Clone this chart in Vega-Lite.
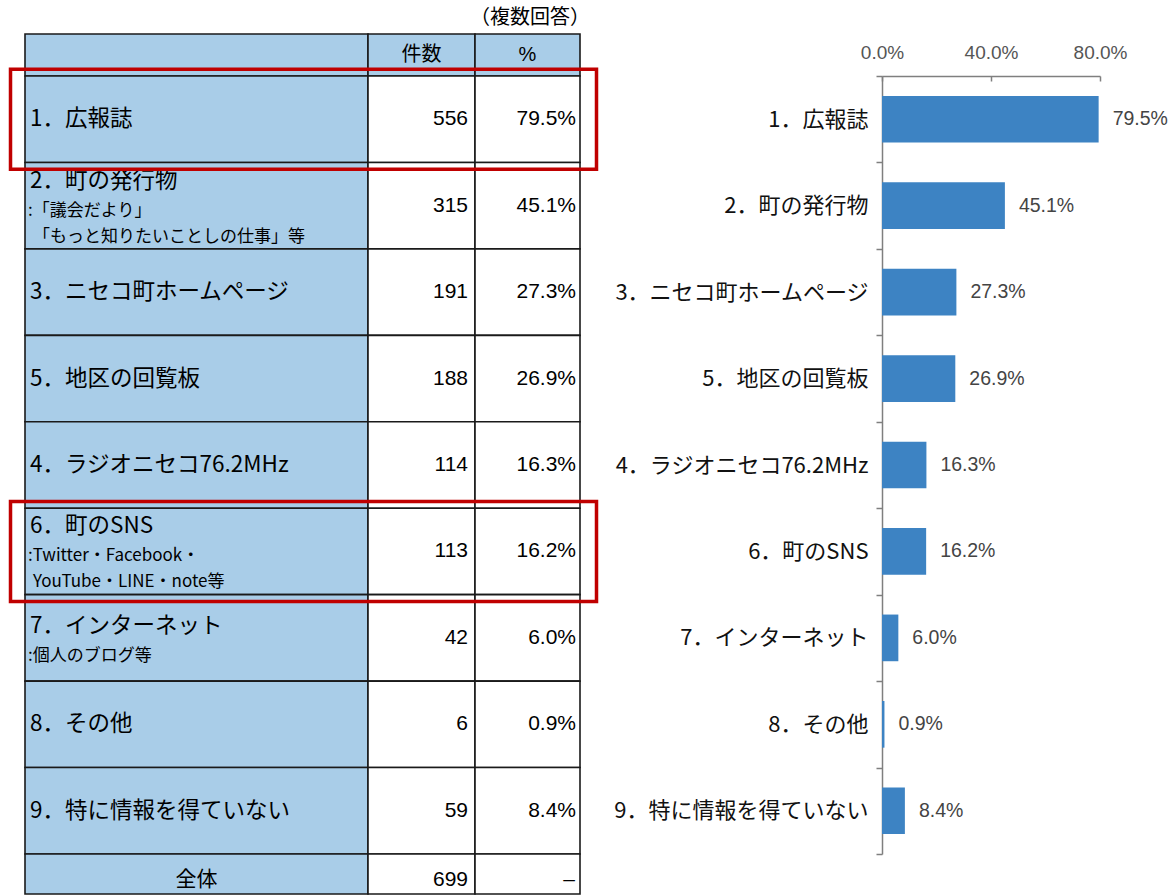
{
  "$schema": "https://vega.github.io/schema/vega-lite/v6.json",
  "background": "white",
  "padding": {"left": 8, "top": 8, "right": 0, "bottom": 0},
  "columns": 5,
  "spacing": 0,
  "bounds": "flush",
  "config": {"view": {"stroke": null}, "font": "Noto Sans CJK JP"},
  "datasets": {
    "rows": [
      {"id": "r1", "label": "1．広報誌", "lines": 1, "sub1": "", "sub2": "", "count": 556, "pct": 79.5, "pctText": "79.5%"},
      {"id": "r2", "label": "2．町の発行物", "lines": 3, "sub1": ":「議会だより」", "sub2": "「もっと知りたいことしの仕事」等", "count": 315, "pct": 45.1, "pctText": "45.1%"},
      {"id": "r3", "label": "3．ニセコ町ホームページ", "lines": 1, "sub1": "", "sub2": "", "count": 191, "pct": 27.3, "pctText": "27.3%"},
      {"id": "r5", "label": "5．地区の回覧板", "lines": 1, "sub1": "", "sub2": "", "count": 188, "pct": 26.9, "pctText": "26.9%"},
      {"id": "r4", "label": "4．ラジオニセコ76.2MHz", "lines": 1, "sub1": "", "sub2": "", "count": 114, "pct": 16.3, "pctText": "16.3%"},
      {"id": "r6", "label": "6．町のSNS", "lines": 3, "sub1": ":Twitter・Facebook・", "sub2": "YouTube・LINE・note等", "count": 113, "pct": 16.2, "pctText": "16.2%"},
      {"id": "r7", "label": "7．インターネット", "lines": 2, "sub1": ":個人のブログ等", "sub2": "", "count": 42, "pct": 6.0, "pctText": "6.0%"},
      {"id": "r8", "label": "8．その他", "lines": 1, "sub1": "", "sub2": "", "count": 6, "pct": 0.9, "pctText": "0.9%"},
      {"id": "r9", "label": "9．特に情報を得ていない", "lines": 1, "sub1": "", "sub2": "", "count": 59, "pct": 8.4, "pctText": "8.4%"}
    ],
    "total": [{"id": "t", "label": "全体", "count": 699, "pctText": "–"}],
    "head": [{"id": "h", "count": "件数", "pct": "%", "note": "（複数回答）"}]
  },
  "concat": [
    {
      "width": 343, "height": 42,
      "data": {"name": "head"},
      "mark": {"type": "rect", "fill": "#a9cde8", "stroke": "#1a1a1a", "strokeWidth": 1.6},
      "encoding": {
        "x": {"datum": "c", "type": "nominal", "scale": {"type": "band", "paddingInner": 0, "paddingOuter": 0}, "axis": null},
        "y": {"field": "id", "type": "nominal", "scale": {"type": "band", "paddingInner": 0, "paddingOuter": 0}, "axis": null}
      }
    },
    {
      "width": 107, "height": 42,
      "data": {"name": "head"},
      "encoding": {
        "x": {"datum": "c", "type": "nominal", "scale": {"type": "band", "paddingInner": 0, "paddingOuter": 0}, "axis": null},
        "y": {"field": "id", "type": "nominal", "scale": {"type": "band", "paddingInner": 0, "paddingOuter": 0}, "axis": null}
      },
      "layer": [
        {"mark": {"type": "rect", "fill": "#a9cde8", "stroke": "#1a1a1a", "strokeWidth": 1.6}},
        {"mark": {"type": "text", "fontSize": 20, "color": "#000", "baseline": "middle", "align": "center"}, "encoding": {"text": {"field": "count"}}}
      ]
    },
    {
      "width": 105, "height": 42,
      "data": {"name": "head"},
      "encoding": {
        "y": {"field": "id", "type": "nominal", "scale": {"type": "band", "paddingInner": 0, "paddingOuter": 0}, "axis": null}
      },
      "layer": [
        {"mark": {"type": "rect", "fill": "#a9cde8", "stroke": "#1a1a1a", "strokeWidth": 1.6},
         "encoding": {"x": {"datum": "c", "type": "nominal", "scale": {"type": "band", "paddingInner": 0, "paddingOuter": 0}, "axis": null}}},
        {"mark": {"type": "text", "fontSize": 20, "color": "#000", "baseline": "middle", "align": "center", "font": "Liberation Sans"},
         "encoding": {"x": {"datum": "c", "type": "nominal", "axis": null}, "text": {"field": "pct"}}},
        {"mark": {"type": "text", "fontSize": 20, "color": "#000", "baseline": "middle", "align": "right", "dx": 10, "dy": -37},
         "encoding": {"x": {"datum": "c", "type": "nominal", "bandPosition": 1, "axis": null}, "text": {"field": "note"}}}
      ]
    },
    {"width": 302, "height": 42, "data": {"values": []}, "mark": "point"},
    {"width": 218, "height": 42, "data": {"values": []}, "mark": "point"},
    {
      "width": 343, "height": 778,
      "data": {"name": "rows"},
      "encoding": {
        "y": {"field": "id", "type": "nominal", "scale": {"type": "band", "domain": ["r1", "r2", "r3", "r5", "r4", "r6", "r7", "r8", "r9"], "paddingInner": 0, "paddingOuter": 0}, "axis": null}
      },
      "layer": [
        {"mark": {"type": "rect", "fill": "#a9cde8", "stroke": "#1a1a1a", "strokeWidth": 1.6},
         "encoding": {"x": {"datum": "c", "type": "nominal", "scale": {"type": "band", "paddingInner": 0, "paddingOuter": 0}, "axis": null}}},
        {"transform": [{"filter": "datum.lines == 1"}],
         "mark": {"type": "text", "align": "left", "baseline": "middle", "dx": 5, "fontSize": 22.5, "color": "#000"},
         "encoding": {"x": {"datum": "c", "type": "nominal", "bandPosition": 0, "axis": null}, "text": {"field": "label"}}},
        {"transform": [{"filter": "datum.lines == 2"}],
         "mark": {"type": "text", "align": "left", "baseline": "middle", "dx": 5, "dy": -12, "fontSize": 22.5, "color": "#000"},
         "encoding": {"x": {"datum": "c", "type": "nominal", "bandPosition": 0, "axis": null}, "text": {"field": "label"}}},
        {"transform": [{"filter": "datum.lines == 3"}],
         "mark": {"type": "text", "align": "left", "baseline": "middle", "dx": 5, "dy": -25, "fontSize": 22.5, "color": "#000"},
         "encoding": {"x": {"datum": "c", "type": "nominal", "bandPosition": 0, "axis": null}, "text": {"field": "label"}}},
        {"transform": [{"filter": "datum.lines == 2"}],
         "mark": {"type": "text", "align": "left", "baseline": "middle", "dx": 3, "dy": 18, "fontSize": 17, "color": "#000"},
         "encoding": {"x": {"datum": "c", "type": "nominal", "bandPosition": 0, "axis": null}, "text": {"field": "sub1"}}},
        {"transform": [{"filter": "datum.lines == 3"}],
         "mark": {"type": "text", "align": "left", "baseline": "middle", "dx": 3, "dy": 5, "fontSize": 17, "color": "#000"},
         "encoding": {"x": {"datum": "c", "type": "nominal", "bandPosition": 0, "axis": null}, "text": {"field": "sub1"}}},
        {"transform": [{"filter": "datum.lines == 3"}],
         "mark": {"type": "text", "align": "left", "baseline": "middle", "dx": 8, "dy": 31, "fontSize": 17, "color": "#000"},
         "encoding": {"x": {"datum": "c", "type": "nominal", "bandPosition": 0, "axis": null}, "text": {"field": "sub2"}}}
      ]
    },
    {
      "width": 107, "height": 778,
      "data": {"name": "rows"},
      "encoding": {
        "y": {"field": "id", "type": "nominal", "scale": {"type": "band", "domain": ["r1", "r2", "r3", "r5", "r4", "r6", "r7", "r8", "r9"], "paddingInner": 0, "paddingOuter": 0}, "axis": null}
      },
      "layer": [
        {"mark": {"type": "rect", "fill": "white", "stroke": "#1a1a1a", "strokeWidth": 1.6},
         "encoding": {"x": {"datum": "c", "type": "nominal", "scale": {"type": "band", "paddingInner": 0, "paddingOuter": 0}, "axis": null}}},
        {"mark": {"type": "text", "align": "right", "baseline": "middle", "dx": -7, "fontSize": 21, "color": "#000", "font": "Liberation Sans"},
         "encoding": {"x": {"datum": "c", "type": "nominal", "bandPosition": 1, "axis": null}, "text": {"field": "count"}}}
      ]
    },
    {
      "width": 105, "height": 778,
      "data": {"name": "rows"},
      "encoding": {
        "y": {"field": "id", "type": "nominal", "scale": {"type": "band", "domain": ["r1", "r2", "r3", "r5", "r4", "r6", "r7", "r8", "r9"], "paddingInner": 0, "paddingOuter": 0}, "axis": null}
      },
      "layer": [
        {"mark": {"type": "rect", "fill": "white", "stroke": "#1a1a1a", "strokeWidth": 1.6},
         "encoding": {"x": {"datum": "c", "type": "nominal", "scale": {"type": "band", "paddingInner": 0, "paddingOuter": 0}, "axis": null}}},
        {"mark": {"type": "text", "align": "right", "baseline": "middle", "dx": -4, "fontSize": 21, "color": "#000", "font": "Liberation Sans"},
         "encoding": {"x": {"datum": "c", "type": "nominal", "bandPosition": 1, "axis": null}, "text": {"field": "pctText"}}},
        {"transform": [{"filter": "datum.id == 'r1' || datum.id == 'r6'"}],
         "mark": {"type": "rect", "fill": "transparent", "stroke": "#c00000", "strokeWidth": 3.5, "width": 586, "height": 100, "xOffset": -224},
         "encoding": {"x": {"datum": "c", "type": "nominal", "axis": null}}}
      ]
    },
    {"width": 302, "height": 778, "data": {"values": []}, "mark": "point"},
    {
      "width": 218, "height": 778,
      "data": {"name": "rows"},
      "encoding": {
        "y": {"field": "label", "type": "nominal", "sort": null,
              "scale": {"paddingInner": 0, "paddingOuter": 0},
              "axis": {"orient": "left", "title": null, "tickBand": "extent", "tickSize": 6, "tickColor": "#7f7f7f", "tickWidth": 1.5,
                       "domainColor": "#7f7f7f", "domainWidth": 1.5, "labelPadding": 8, "labelFontSize": 22, "labelColor": "#111", "labelLimit": 0}},
        "x": {"field": "pct", "type": "quantitative", "scale": {"domain": [0, 80], "nice": false},
              "axis": {"orient": "top", "title": null, "values": [0, 40, 80], "labelExpr": "format(datum.value, '.1f') + '%'", "grid": false, "labelFlush": false,
                       "domainColor": "#7f7f7f", "domainWidth": 1.5, "tickColor": "#7f7f7f", "tickWidth": 1.5, "tickSize": -5, "labelPadding": 19,
                       "labelFontSize": 19, "labelColor": "#555", "labelFont": "Liberation Sans"}}
      },
      "layer": [
        {"mark": {"type": "bar", "height": {"band": 0.54}, "color": "#3d83c3"}},
        {"mark": {"type": "text", "align": "left", "baseline": "middle", "dx": 14, "fontSize": 19.5, "color": "#444", "font": "Liberation Sans"},
         "encoding": {"text": {"field": "pctText"}}}
      ]
    },
    {
      "width": 343, "height": 40,
      "data": {"name": "total"},
      "encoding": {
        "x": {"datum": "c", "type": "nominal", "scale": {"type": "band", "paddingInner": 0, "paddingOuter": 0}, "axis": null},
        "y": {"field": "id", "type": "nominal", "scale": {"type": "band", "paddingInner": 0, "paddingOuter": 0}, "axis": null}
      },
      "layer": [
        {"mark": {"type": "rect", "fill": "#a9cde8", "stroke": "#1a1a1a", "strokeWidth": 1.6}},
        {"mark": {"type": "text", "align": "center", "baseline": "middle", "dy": 6, "fontSize": 21, "color": "#000"}, "encoding": {"text": {"field": "label"}}}
      ]
    },
    {
      "width": 107, "height": 40,
      "data": {"name": "total"},
      "encoding": {
        "y": {"field": "id", "type": "nominal", "scale": {"type": "band", "paddingInner": 0, "paddingOuter": 0}, "axis": null}
      },
      "layer": [
        {"mark": {"type": "rect", "fill": "white", "stroke": "#1a1a1a", "strokeWidth": 1.6},
         "encoding": {"x": {"datum": "c", "type": "nominal", "scale": {"type": "band", "paddingInner": 0, "paddingOuter": 0}, "axis": null}}},
        {"mark": {"type": "text", "align": "right", "baseline": "middle", "dx": -7, "dy": 6, "fontSize": 21, "color": "#000", "font": "Liberation Sans"},
         "encoding": {"x": {"datum": "c", "type": "nominal", "bandPosition": 1, "axis": null}, "text": {"field": "count"}}}
      ]
    },
    {
      "width": 105, "height": 40,
      "data": {"name": "total"},
      "encoding": {
        "y": {"field": "id", "type": "nominal", "scale": {"type": "band", "paddingInner": 0, "paddingOuter": 0}, "axis": null}
      },
      "layer": [
        {"mark": {"type": "rect", "fill": "white", "stroke": "#1a1a1a", "strokeWidth": 1.6},
         "encoding": {"x": {"datum": "c", "type": "nominal", "scale": {"type": "band", "paddingInner": 0, "paddingOuter": 0}, "axis": null}}},
        {"mark": {"type": "text", "align": "right", "baseline": "middle", "dx": -5, "dy": 6, "fontSize": 21, "color": "#000", "font": "Liberation Sans"},
         "encoding": {"x": {"datum": "c", "type": "nominal", "bandPosition": 1, "axis": null}, "text": {"field": "pctText"}}}
      ]
    },
    {"width": 302, "height": 40, "data": {"values": []}, "mark": "point"},
    {"width": 218, "height": 40, "data": {"values": []}, "mark": "point"}
  ]
}
